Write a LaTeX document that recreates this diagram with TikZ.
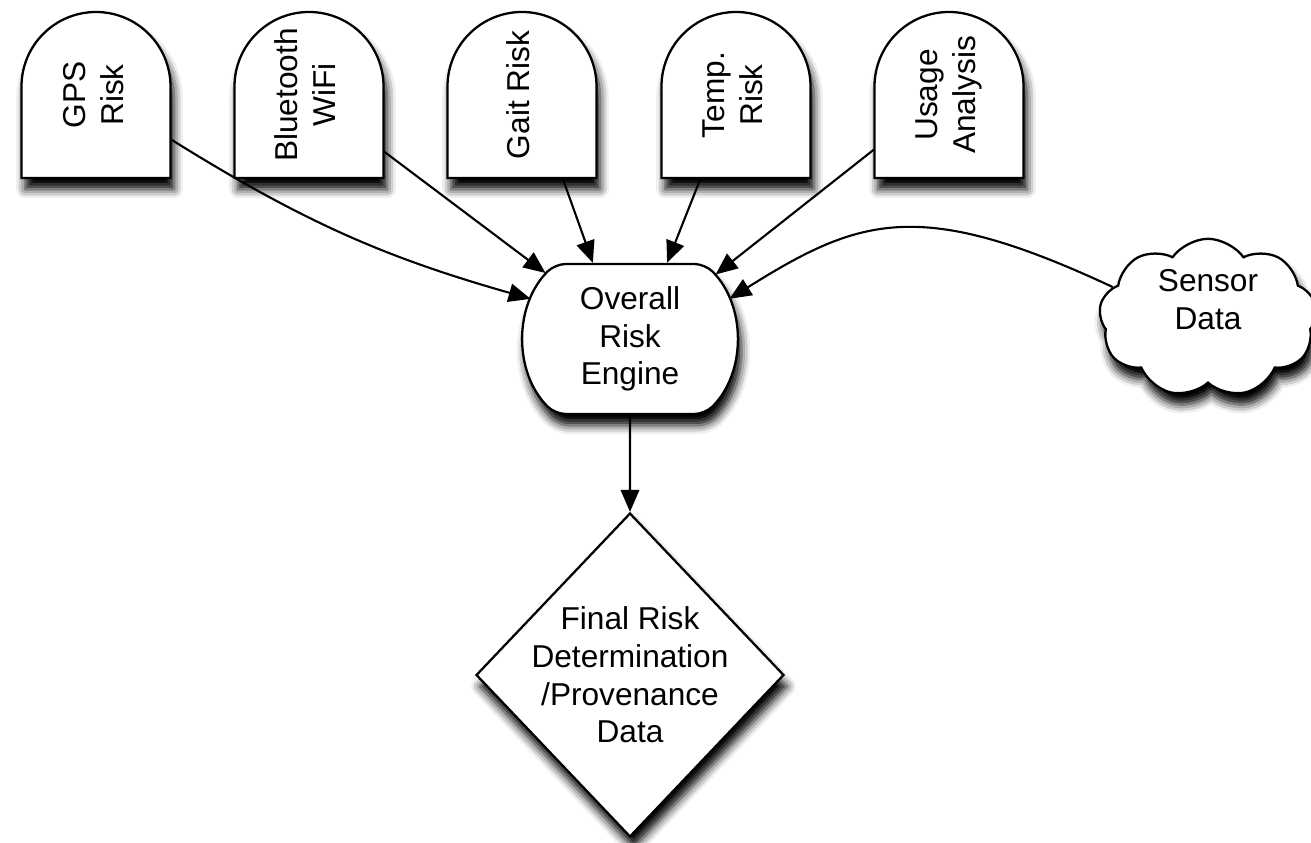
\documentclass[tikz,border=0pt]{standalone}
\usepackage{fontspec}
\setmainfont{Liberation Sans}
\usepackage{graphicx}
\usetikzlibrary{arrows.meta, shapes.geometric, shapes.misc, shapes.symbols, shadows.blur}
\tikzset{
  boxshadow/.style = {blur shadow={shadow xshift=2pt, shadow yshift=-6.5pt, shadow blur radius=5pt, shadow opacity=100}},
  outline/.style = {draw, line width=1.3pt, fill=white, boxshadow},
  tomb/.pic = {
    \draw[outline] (-74.5,-83) -- (-74.5,8.5) arc[start angle=180, end angle=0, radius=74.5] -- (74.5,-83) -- cycle;
  },
  tombnode/.style = {minimum width=2.98cm, minimum height=3.32cm, inner sep=0pt},
  link/.style = {line width=1.2pt, -{Triangle[length=12.5pt, width=10.5pt]}}
}
\newcommand{\vlabel}[1]{\rotatebox{90}{\begin{tabular}{@{}c@{}}#1\end{tabular}}}
\newcommand{\cloudlabel}[1]{\raisebox{0.3cm}[\height][\depth]{\begin{tabular}{@{}c@{}}#1\end{tabular}}}

\begin{document}
\begin{tikzpicture}[x=0.02cm, y=0.02cm, font=\fontsize{18}{21.5}\selectfont]

  \useasboundingbox (0,0) rectangle (1311,842);

  % Risk modules
  \pic at (96,747) {tomb};
  \node[tombnode] (gps) at (97,747) {\vlabel{GPS\\Risk}};

  \pic at (309,747) {tomb};
  \node[tombnode] (bt) at (309,747) {\vlabel{Bluetooth\\WiFi}};

  \pic at (522,747) {tomb};
  \node[tombnode] (gait) at (522,747) {\vlabel{Gait Risk}};

  \pic at (736,747) {tomb};
  \node[tombnode] (temp) at (736,747) {\vlabel{Temp.\\Risk}};

  \pic at (949,747) {tomb};
  \node[tombnode] (usage) at (949,747) {\vlabel{Usage\\Analysis}};

  % Engine
  \node[outline, rounded rectangle, rounded rectangle arc length=90, rounded corners=6pt,
        minimum width=4.1cm, minimum height=3cm, align=center] (engine) at (630,503) {Overall\\Risk\\Engine};

  % Sensor cloud
  \node[outline, cloud, cloud puffs=9, cloud puff arc=110, minimum width=4.36cm, minimum height=2.8cm,
        inner sep=0pt] (sensor) at (1208,524) {\cloudlabel{Sensor\\Data}};

  % Final decision
  \node[outline, diamond, minimum width=6.16cm, minimum height=6.48cm, inner sep=-0.5cm,
        align=center] (final) at (630,167) {Final Risk\\Determination\\/Provenance\\Data};

  % Links
  \draw[link] (gps.-31) to[bend right=8] (engine.158);
  \draw[link] (bt.-37) -- (engine.142);
  \draw[link] (gait.-64) -- (engine.116);
  \draw[link] (temp.247) -- (engine.64);
  \draw[link] (usage.216) -- (engine.37);
  \draw[link] (sensor.162) .. controls (920,645) and (860,625) .. (engine.22);
  \draw[link] (engine) -- (final);

\end{tikzpicture}
\end{document}
